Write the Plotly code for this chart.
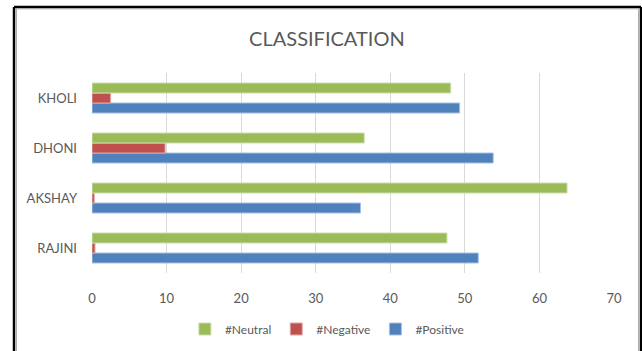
import plotly.graph_objects as go

# Sentiment counts per person (bottom-to-top category order)
people = ["RAJINI", "AKSHAY", "DHONI", "KHOLI"]
positive = [51.8, 36.0, 53.8, 49.3]
negative = [0.4, 0.3, 9.8, 2.5]
neutral = [47.6, 63.7, 36.5, 48.1]

x_ticks = [0, 10, 20, 30, 40, 50, 60, 70]

FONT = "Lato, Open Sans, sans-serif"
TEXT_GRAY = "#595959"

fig = go.Figure()
fig.add_trace(go.Bar(
    y=people, x=positive, name="#Positive", orientation="h",
    marker=dict(color="#4F81BD", line=dict(color="#A7C0DE", width=1)),
))
fig.add_trace(go.Bar(
    y=people, x=negative, name="#Negative", orientation="h",
    marker=dict(color="#C0504D", line=dict(color="#DFA7A6", width=1)),
))
fig.add_trace(go.Bar(
    y=people, x=neutral, name="#Neutral", orientation="h",
    marker=dict(color="#9BBB59", line=dict(color="#CDDDAC", width=1)),
))

# Outer frame: dark border with a thin gray inner edge
frame = []
L, R, T, B = -0.1494, 1.0517, 1.33, -0.45
frame.append(dict(type="line", xref="paper", yref="paper", x0=L, x1=L, y0=B, y1=T,
                  line=dict(color="#000000", width=2.5)))
frame.append(dict(type="line", xref="paper", yref="paper", x0=L, x1=R, y0=T, y1=T,
                  line=dict(color="#000000", width=2.5)))
frame.append(dict(type="line", xref="paper", yref="paper", x0=R, x1=R, y0=B, y1=T,
                  line=dict(color="#000000", width=2.5)))
frame.append(dict(type="line", xref="paper", yref="paper", x0=L + 0.0045, x1=L + 0.0045,
                  y0=B, y1=T - 0.009, line=dict(color="#A0A0A0", width=1)))
frame.append(dict(type="line", xref="paper", yref="paper", x0=L + 0.0045, x1=R - 0.0045,
                  y0=T - 0.009, y1=T - 0.009, line=dict(color="#A0A0A0", width=1)))
frame.append(dict(type="line", xref="paper", yref="paper", x0=R - 0.0045, x1=R - 0.0045,
                  y0=B, y1=T - 0.009, line=dict(color="#A0A0A0", width=1)))

fig.update_layout(
    width=642, height=351,
    margin=dict(l=92, r=28, t=73, b=78, autoexpand=False),
    paper_bgcolor="white", plot_bgcolor="white",
    barmode="group", bargap=0.4, bargroupgap=0,
    font=dict(family=FONT, color=TEXT_GRAY, size=13),
    title=dict(text="CLASSIFICATION", x=0.45, xref="paper", xanchor="center",
               y=1 - 39 / 351, yref="container", yanchor="middle",
               font=dict(family=FONT, size=20, color=TEXT_GRAY)),
    xaxis=dict(range=[0, 70], tickvals=x_ticks, showgrid=True, gridcolor="#D9D9D9",
               gridwidth=1, zeroline=False, showline=False, ticks="",
               tickfont=dict(size=13, color=TEXT_GRAY), ticklabelstandoff=16),
    yaxis=dict(showgrid=False, zeroline=False, showline=False, ticks="",
               tickfont=dict(size=13, color=TEXT_GRAY), ticklabelstandoff=14),
    legend=dict(orientation="h", traceorder="reversed", x=0.45, xanchor="center",
                y=1 - 329 / 351, yref="container", yanchor="middle",
                font=dict(size=12, color=TEXT_GRAY), itemwidth=30),
    shapes=frame,
    showlegend=True,
)

fig.write_html("out.html")
